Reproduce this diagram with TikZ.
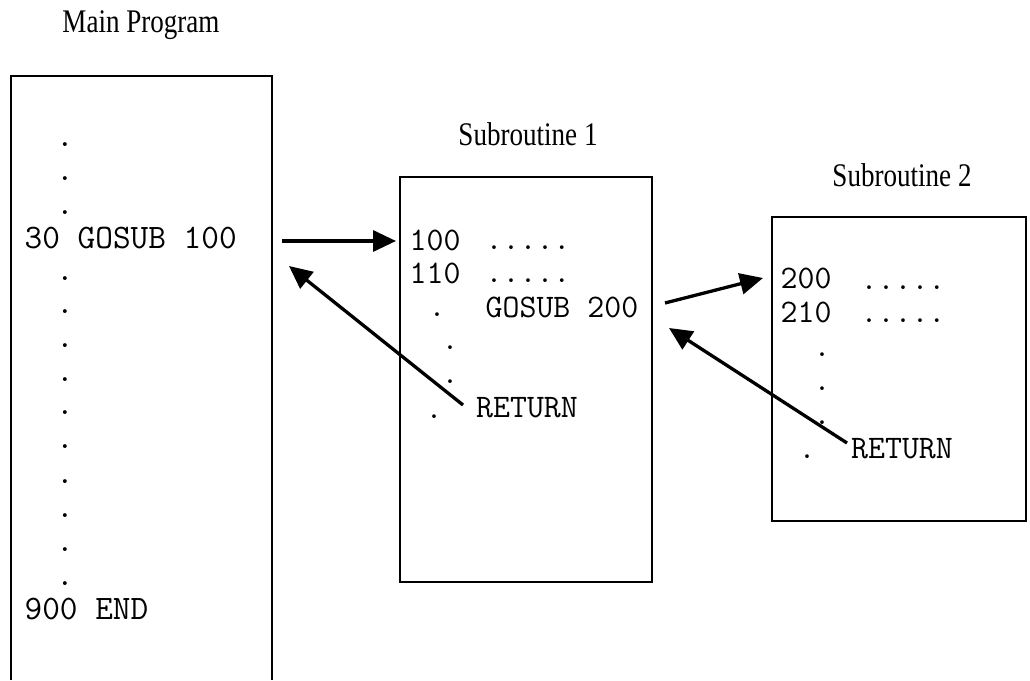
\documentclass[tikz,border=0pt]{standalone}
\usepackage{fontspec}
\setmainfont{Liberation Serif}
\usetikzlibrary{arrows.meta}
\tikzset{
  boxnode/.style={draw=black, line width=2.5pt, outer sep=0pt, inner sep=0pt, anchor=north west},
  title/.style={font=\fontsize{33}{33}\selectfont, inner sep=0pt, anchor=base},
  code/.style={font=\ttfamily\fontsize{32.9}{33}\selectfont, inner sep=0pt, anchor=base west},
  maincode/.style={font=\ttfamily\fontsize{34.3}{34}\selectfont, inner sep=0pt, anchor=base west},
  dotc/.style={font=\ttfamily\fontsize{32.9}{33}\selectfont, inner sep=0pt, anchor=base},
  maindot/.style={font=\ttfamily\fontsize{34.3}{34}\selectfont, inner sep=0pt, anchor=base},
  arr/.style={line width=3.3pt, -{Triangle[length=23pt,width=21pt]}}
}
\newcommand{\narrow}[1]{\scalebox{0.82}[1]{#1}}
\begin{document}
\begin{tikzpicture}[x=1pt,y=-1pt]
\useasboundingbox (0,0) rectangle (1030,680);
\fill[white] (0,0) rectangle (1030,680);

% titles
\node[title] (tmain) at (141,32) {\narrow{Main Program}};
\node[title] (tsub1) at (528,145) {\narrow{Subroutine 1}};
\node[title] (tsub2) at (902,186) {\narrow{Subroutine 2}};

% main program box (open at the bottom of the page)
\node[boxnode, draw=none, minimum width=261pt, minimum height=604pt] (main) at (11,76) {};
\draw[line width=2.5pt] (main.south west) -- (main.north west) -- (main.north east) -- (main.south east);

% subroutine boxes
\node[boxnode, minimum width=252pt, minimum height=405pt] (sub1) at (400,177) {};
\node[boxnode, minimum width=254pt, minimum height=304pt] (sub2) at (772,217) {};

% main program text
\foreach \y [count=\i] in {146,180,214} {\node[maindot] (md\i) at (65,\y) {.};}
\node[maincode] (gosub100) at (24.5,248) {30 GOSUB 100};
\foreach \y [count=\i from 4] in {280,313,347,381,414,448,483,517,551,585} {\node[maindot] (md\i) at (65,\y) {.};}
\node[maincode] (endline) at (24.5,619) {900 END};

% subroutine 1 text
\node[code] (l100) at (409.5,250) {100};
\node[code] (d100) at (485.5,249) {.....};
\node[code] (l110) at (409.5,283) {110};
\node[code] (d110) at (485.5,282) {.....};
\node[code] (gosub200) at (485.5,317) {GOSUB 200};
\node[dotc] (s1d1) at (437,316) {.};
\node[dotc] (s1d2) at (450,349) {.};
\node[dotc] (s1d3) at (450,383) {.};
\node[dotc] (s1d4) at (434,418) {.};
\node[code] (ret1) at (476,417) {RETURN};

% subroutine 2 text
\node[code] (l200) at (780.5,288) {200};
\node[code] (d200) at (860.5,289) {.....};
\node[code] (l210) at (780.5,322) {210};
\node[code] (d210) at (860.5,322) {.....};
\node[dotc] (s2d1) at (822,356) {.};
\node[dotc] (s2d2) at (822,390) {.};
\node[dotc] (s2d3) at (822,424) {.};
\node[dotc] (s2d4) at (807,458) {.};
\node[code] (ret2) at (851,458) {RETURN};

% connector end points
\coordinate (c1s) at (282,241);
\coordinate (c1e) at (396,241);
\coordinate (r1s) at (463,405);
\coordinate (r1e) at (289,266);
\coordinate (c2s) at (665,303);
\coordinate (c2e) at (763,278);
\coordinate (r2s) at (847,443);
\coordinate (r2e) at (669,328);

\draw[arr] (c1s) -- (c1e);
\draw[arr] (r1s) -- (r1e);
\draw[arr] (c2s) -- (c2e);
\draw[arr] (r2s) -- (r2e);
\end{tikzpicture}
\end{document}
